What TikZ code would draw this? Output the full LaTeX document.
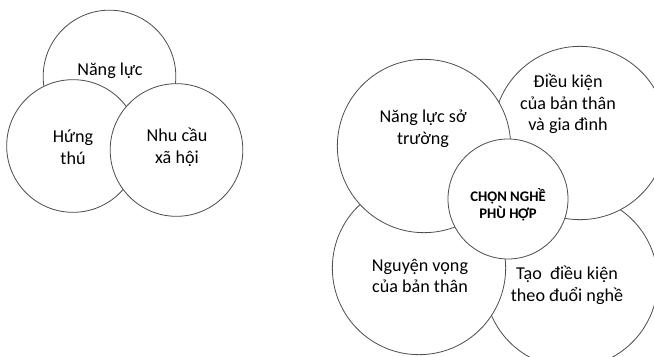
\documentclass[tikz,border=0pt]{standalone}
\usepackage{fontspec}
\setmainfont{Carlito}
\tikzset{
  ring/.style={circle,draw=black!70,line width=0.6pt,fill=white,inner sep=0pt},
  small ring/.style={ring,minimum size=99.5pt},
  big ring/.style={ring,minimum size=130pt},
  mid ring/.style={ring,minimum size=90pt},
  txt/.style={align=center,font=\fontsize{13.6}{16.2}\selectfont},
  head/.style={align=center,font=\fontsize{11}{12.5}\selectfont\bfseries}
}
\begin{document}
\begin{tikzpicture}[x=0.75pt,y=-0.75pt]
\clip (0,0) rectangle (654,357);
% left group
\node[small ring] (nangluc) at (109.5,76.5) {};
\node[small ring] (hungthu) at (73,146) {};
\node[small ring] (nhucau) at (176.5,150) {};
\node[txt] (tnangluc) at (110,71) {Năng lực};
\node[txt] (thungthu) at (73,147) {Hứng\\thú};
\node[txt] (tnhucau) at (177,147) {Nhu cầu\\xã hội};
% right group
\node[big ring] (taodk) at (571,281) {};
\node[big ring] (dieukien) at (580,133) {};
\node[big ring] (nguyenvong) at (419,268) {};
\node[big ring] (sotruong) at (424,146) {};
\node[mid ring] (chonnghe) at (508,199) {};
\node[txt] (tsotruong) at (423,129) {Năng lực sở\\trường};
\node[txt] (tdieukien) at (568,104) {Điều kiện\\của bản thân\\và gia đình};
\node[txt] (tnguyenvong) at (420,276) {Nguyện vọng\\của bản thân};
\node[txt] (ttaodk) at (567,285) {Tạo\ \ điều kiện\\theo đuổi nghề};
\node[head] (tchonnghe) at (508,205) {CHỌN NGHỀ\\PHÙ HỢP};
\end{tikzpicture}
\end{document}
